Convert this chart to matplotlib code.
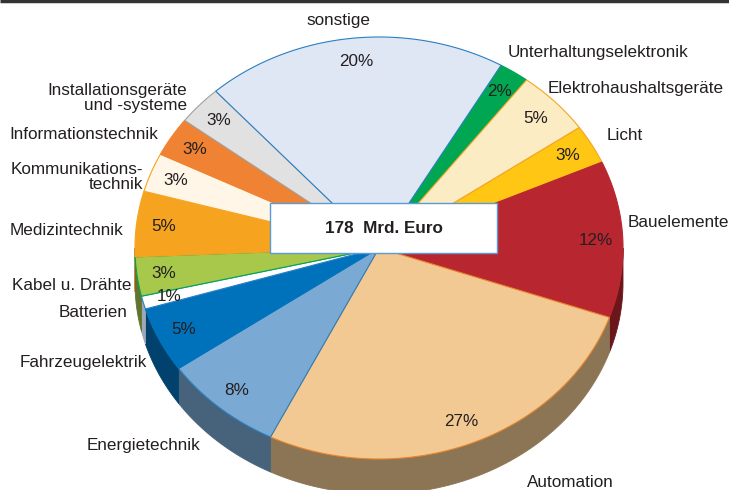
import numpy as np
import matplotlib
matplotlib.use("Agg")
import matplotlib.pyplot as plt
from matplotlib.patches import Polygon, Rectangle
from matplotlib.colors import to_rgb

plt.rcParams['font.family'] = ['Liberation Sans', 'DejaVu Sans']

# ---- data ----
categories = ["Unterhaltungselektronik", "Elektrohaushaltsgeräte", "Licht",
              "Bauelemente", "Automation", "Energietechnik", "Fahrzeugelektrik",
              "Batterien", "Kabel u. Drähte", "Medizintechnik",
              "Kommunikations-\ntechnik", "Informationstechnik",
              "Installationsgeräte\nund -systeme", "sonstige"]
shares = [2, 5, 3, 12, 27, 8, 5, 1, 3, 5, 3, 3, 3, 20]
total_label = "178  Mrd. Euro"

# ---- styles ----
colors = ["#00a651", "#fbecc4", "#ffc614", "#b8262f", "#f2c992", "#7aaad4",
          "#0072bc", "#ffffff", "#a7c84b", "#f6a31f", "#fff6e8", "#ef8233",
          "#e1e1e1", "#dfe7f5"]
edge_colors = ["#00a651", "#f5a623", "#f5a623", "#b8262f", "#e8832a", "#2a7fc1",
               "#0072bc", "#2a7fc1", "#00a651", "#f6a31f", "#f6a31f", "#ef8233",
               "#a0a0a0", "#2a7fc1"]
# layout: outer label positions (pixel coords) and alignment
label_pos = [(508, 53, 'left'), (548, 88, 'left'), (607, 135, 'left'),
             (628, 222, 'left'), (527, 482, 'left'), (200, 445, 'right'),
             (147, 362, 'right'), (128, 312, 'right'), (132, 285, 'right'),
             (123, 230, 'right'), (143, 177, 'right'), (158, 134, 'right'),
             (187, 98, 'right'), (338, 20, 'center')]

cx, cy, rx, ry, depth = 379, 248, 244, 211, 35
start = 30.0
fs = 12.3

fig = plt.figure(figsize=(7.29, 4.90), dpi=100)
ax = fig.add_axes([0, 0, 1, 1])
ax.set_xlim(0, 729)
ax.set_ylim(490, 0)
ax.axis('off')


def pt(t_deg, f=1.0):
    t = np.radians(t_deg)
    return cx + f * rx * np.sin(t), cy - f * ry * np.cos(t)


vals = np.array(shares, dtype=float)
frac = vals / vals.sum()
bounds = start + 360 * np.concatenate([[0], np.cumsum(frac)])

# side faces (visible lower half: 90..270 deg)
for i in range(len(vals)):
    a0, a1 = bounds[i], bounds[i + 1]
    for off in (0, 360):
        s0, s1 = max(a0, 90 + off), min(a1, 270 + off)
        if s1 <= s0:
            continue
        t = np.linspace(s0, s1, 80)
        xs, ys = pt(t)
        poly = np.column_stack([np.concatenate([xs, xs[::-1]]),
                                np.concatenate([ys, ys[::-1] + depth])])
        side = tuple(0.58 * c for c in to_rgb(colors[i]))
        if colors[i] == "#ffffff":
            side = (0.62, 0.66, 0.72)
        ax.add_patch(Polygon(poly, closed=True, facecolor=side,
                             edgecolor=side, lw=0.6, zorder=1))

# top faces
for i in range(len(vals)):
    a0, a1 = bounds[i], bounds[i + 1]
    t = np.linspace(a0, a1, max(int((a1 - a0) * 2), 4))
    xs, ys = pt(t)
    poly = np.column_stack([np.concatenate([[cx], xs]), np.concatenate([[cy], ys])])
    ax.add_patch(Polygon(poly, closed=True, facecolor=colors[i],
                         edgecolor=edge_colors[i], lw=0.8, zorder=2))
    mid = (a0 + a1) / 2
    px, py = pt(mid, 0.89)
    ax.text(px, py, f"{shares[i]}%", ha='center', va='center', fontsize=fs,
            color='#231f20', zorder=4)
    lx, ly, ha = label_pos[i]
    ax.text(lx, ly, categories[i], ha=ha, va='center', fontsize=fs,
            color='#231f20', linespacing=1.0, zorder=4)

# central box
ax.add_patch(Rectangle((270, 203), 227, 50, facecolor='white',
                       edgecolor='#5b9bd5', lw=1.0, zorder=5))
ax.text(383.5, 228, total_label, ha='center', va='center', fontsize=fs,
        fontweight='bold', color='#231f20', zorder=6)

# top rule
ax.plot([0, 729], [1, 1], color='#333333', lw=2.5, zorder=6,
        solid_capstyle='butt')

fig.savefig("out.png", dpi=100)
